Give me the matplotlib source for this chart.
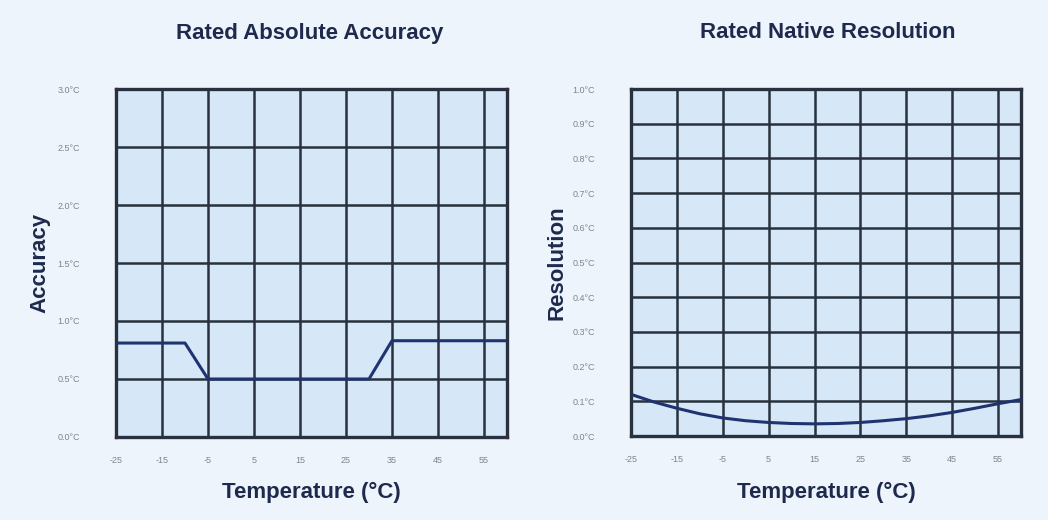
import matplotlib
matplotlib.use("Agg")
import matplotlib.pyplot as plt
import numpy as np

plt.rcParams['font.family'] = ['Liberation Sans', 'DejaVu Sans']

# Data
x_ticks = [-25, -15, -5, 5, 15, 25, 35, 45, 55]
acc_temp = [-25, -10, -5, 30, 35, 60]
acc_val = [0.81, 0.81, 0.50, 0.50, 0.83, 0.83]
acc_ticks = [0.0, 0.5, 1.0, 1.5, 2.0, 2.5, 3.0]

res_temp = [-25, -20, -15, -10, -5, 0, 5, 10, 15, 20, 25, 30, 35, 40, 45, 50, 55, 60]
res_val = [0.120, 0.098, 0.080, 0.064, 0.052, 0.044, 0.039, 0.036, 0.035, 0.036, 0.039, 0.044, 0.050, 0.058, 0.068, 0.080, 0.093, 0.105]
res_ticks = [0.0, 0.1, 0.2, 0.3, 0.4, 0.5, 0.6, 0.7, 0.8, 0.9, 1.0]

BG = "#edf4fb"
FACE = "#d6e8f7"
GRID = "#28313d"
LINE = "#1f3370"
TITLE = "#1d2a4d"
TICK = "#7d8592"

W, H = 1048, 520
fig = plt.figure(figsize=(W / 100, H / 100), dpi=100)
fig.patch.set_facecolor(BG)


def make_axes(rect_px, xs, ys, yticks, ylim, title, ylabel, title_x, ylabel_x):
    l, t, r, b = rect_px
    ax = fig.add_axes([l / W, (H - b) / H, (r - l) / W, (b - t) / H])
    ax.set_facecolor(FACE)
    ax.plot(xs, ys, color=LINE, lw=2.2, zorder=3)
    ax.set_xlim(-25, 60)
    ax.set_ylim(*ylim)
    ax.set_xticks(x_ticks)
    ax.set_xticklabels([str(v) for v in x_ticks])
    ax.set_yticks(yticks)
    ax.set_yticklabels([f"{v:.1f}°C" for v in yticks])
    ax.grid(True, color=GRID, lw=1.8, zorder=1)
    ax.set_axisbelow(True)
    for s in ax.spines.values():
        s.set_color(GRID)
        s.set_linewidth(2.4)
    ax.tick_params(length=0, labelsize=6.5, colors=TICK)
    ax.tick_params(axis="x", pad=14)
    ax.tick_params(axis="y", pad=26)
    fig.text(title_x / W, 1 - 33 / H, title, ha="center", va="center",
             fontsize=16, fontweight="bold", color=TITLE)
    fig.text(ylabel_x / W, 1 - (t + b) / 2 / H, ylabel, ha="center", va="center",
             rotation=90, fontsize=16, fontweight="bold", color=TITLE)
    fig.text((l + r) / 2 / W, 1 - 492 / H, "Temperature (°C)", ha="center", va="center",
             fontsize=16, fontweight="bold", color=TITLE)
    return ax


make_axes((116, 89, 507, 437), acc_temp, acc_val, acc_ticks, (0, 3.0),
          "Rated Absolute Accuracy", "Accuracy", 310, 40)
make_axes((631, 89, 1021, 436), res_temp, res_val, res_ticks, (0, 1.0),
          "Rated Native Resolution", "Resolution", 828, 557)

fig.savefig("out.png", dpi=100, facecolor=BG)
